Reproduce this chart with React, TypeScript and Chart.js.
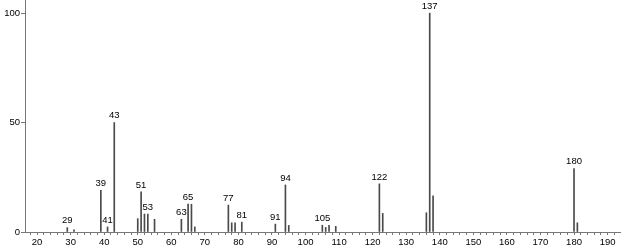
import { useEffect, useRef } from 'react';
import { Chart, registerables } from 'chart.js';

Chart.register(...registerables);

// m/z values and relative intensities
const mz = [29, 31, 39, 41, 43, 50, 51, 52, 53, 55, 63, 65, 66, 67, 77, 78, 79, 81, 91, 94, 95, 105, 106, 107, 109, 122, 123, 136, 137, 138, 180, 181];
const intensity = [2, 1, 19, 2.3, 50, 6.1, 18.4, 8.2, 8.2, 5.8, 5.8, 12.7, 12.7, 2.3, 12.3, 4.2, 4.2, 4.5, 3.6, 21.5, 3, 3.1, 2.1, 3, 2.6, 22, 8.5, 8.8, 100, 16.5, 29, 4.2];
const labeledPeaks = [29, 39, 41, 43, 51, 53, 63, 65, 77, 81, 91, 94, 105, 122, 137, 180];
const yTickValues = [0, 50, 100];
const xTickValues: number[] = [];
for (let v = 18; v <= 194; v += 2) xTickValues.push(v);

const FONT = { family: "'Liberation Sans', Arial, sans-serif", size: 9.5 };

const peakLabelPlugin = {
  id: 'peakLabels',
  afterDatasetsDraw(chart: any) {
    const meta = chart.getDatasetMeta(0);
    const ctx = chart.ctx;
    ctx.save();
    ctx.fillStyle = '#000';
    ctx.font = `${FONT.size}px ${FONT.family}`;
    ctx.textAlign = 'center';
    ctx.textBaseline = 'bottom';
    meta.data.forEach((el: any, i: number) => {
      if (labeledPeaks.includes(mz[i])) {
        ctx.fillText(String(mz[i]), el.x, el.y - 2);
      }
    });
    ctx.restore();
  },
};

const zeroPad = (s: any) => {
  s.paddingTop = 0;
  s.paddingBottom = 0;
  s.paddingLeft = 0;
  s.paddingRight = 0;
};

export default function App() {
  const ref = useRef<HTMLCanvasElement>(null);
  useEffect(() => {
    document.body.style.margin = '0';
    const chart = new Chart(ref.current!, {
      type: 'bar',
      data: {
        datasets: [
          {
            data: mz.map((x, i) => ({ x, y: intensity[i] })),
            backgroundColor: '#4a4a4a',
            borderWidth: 0,
            barThickness: 1,
          } as any,
        ],
      },
      options: {
        responsive: false,
        animation: false,
        layout: { padding: 0 },
        plugins: { legend: { display: false }, tooltip: { enabled: false } },
        scales: {
          x: {
            type: 'linear',
            min: 16.4,
            max: 194,
            offset: false,
            afterBuildTicks: (s: any) => {
              s.ticks = xTickValues.map((v) => ({ value: v }));
            },
            afterFit: (s: any) => {
              s.height = 17;
              zeroPad(s);
            },
            ticks: {
              autoSkip: false,
              maxRotation: 0,
              minRotation: 0,
              padding: 2,
              color: '#000',
              font: FONT,
              callback: (v: any) => (Number(v) % 10 === 0 ? String(v) : ''),
            },
            grid: { drawOnChartArea: false, offset: false, tickLength: 3, color: '#777' },
            border: { color: '#777' },
          },
          y: {
            min: 0,
            max: 106,
            afterBuildTicks: (s: any) => {
              s.ticks = yTickValues.map((v) => ({ value: v }));
            },
            afterFit: (s: any) => {
              s.width = 25;
              zeroPad(s);
            },
            ticks: { padding: 1, color: '#000', font: FONT },
            grid: { drawOnChartArea: false, tickLength: 4, color: '#777' },
            border: { color: '#777' },
          },
        },
      } as any,
      plugins: [peakLabelPlugin],
    });
    return () => chart.destroy();
  }, []);
  return (
    <div style={{ position: 'absolute', left: 0, top: 0 }}>
      <canvas ref={ref} width={621} height={249} />
    </div>
  );
}
